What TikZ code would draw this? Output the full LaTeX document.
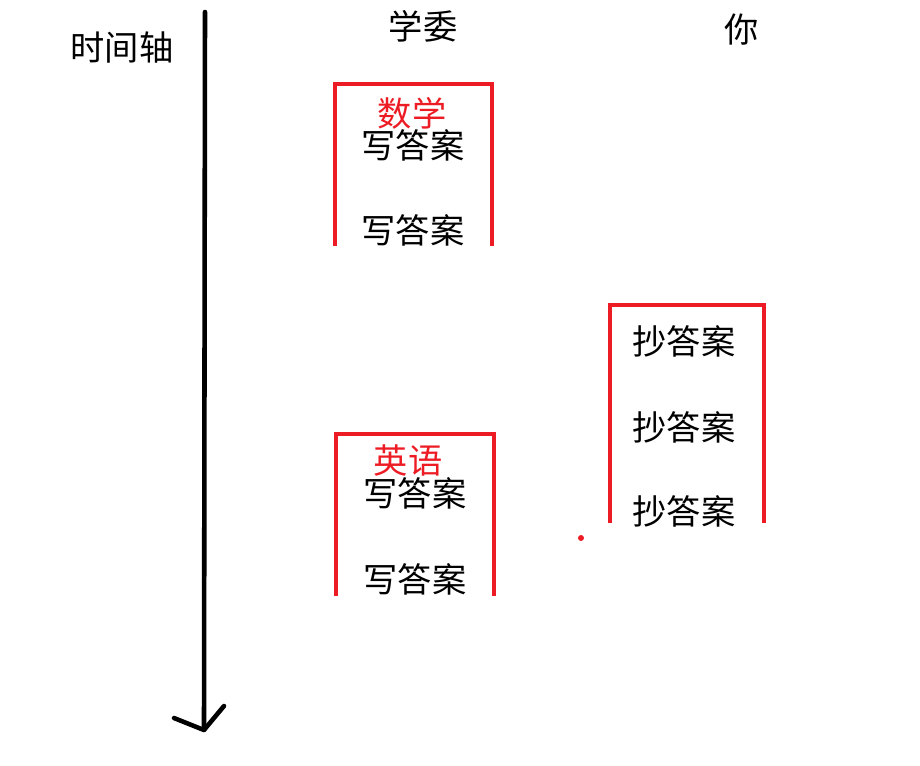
\documentclass[tikz,border=0pt]{standalone}
\usepackage{fontspec}
\setmainfont{Noto Sans CJK SC}
\usepackage{tikz}

\definecolor{boxred}{RGB}{237,28,36}

\begin{document}
\begin{tikzpicture}[x=0.02cm, y=-0.02cm,
  every node/.style={inner sep=0pt, outer sep=0pt, font=\fontsize{19.5}{19.5}\selectfont},
  redtext/.style={text=boxred},
  boxline/.style={draw=boxred, line width=2.6pt},
  axisline/.style={draw=black, line width=2.6pt, line cap=round, line join=round}]
\useasboundingbox (0,0) rectangle (920,765);

% time axis
\node (axis) at (122,47) {时间轴};
\coordinate (top) at (205,12);
\coordinate (tip) at (204,730);
\coordinate (larm) at (174,718);
\coordinate (rarm) at (224,706);
\draw[axisline] (top) -- (tip);
\draw[axisline] (larm) -- (tip) -- (rarm);

% columns
\node (xuewei) at (423,26) {学委};
\node (ni) at (742,30) {你};

% math box
\draw[boxline] (335,246) -- (335,84) -- (492,84) -- (492,246);
\node[redtext] (math) at (412,113) {数学};
\node (write1) at (413,145) {写答案};
\node (write2) at (413,230) {写答案};

% english box
\draw[boxline] (336,596) -- (336,434) -- (494,434) -- (494,596);
\node[redtext] (english) at (408,461) {英语};
\node (write3) at (415,493) {写答案};
\node (write4) at (415,579) {写答案};

% copy box
\draw[boxline] (610,523) -- (610,305) -- (764,305) -- (764,523);
\node (copy1) at (684,341) {抄答案};
\node (copy2) at (684,427) {抄答案};
\node (copy3) at (684,511) {抄答案};

\fill[boxred] (581,538) circle (3);
\end{tikzpicture}
\end{document}
